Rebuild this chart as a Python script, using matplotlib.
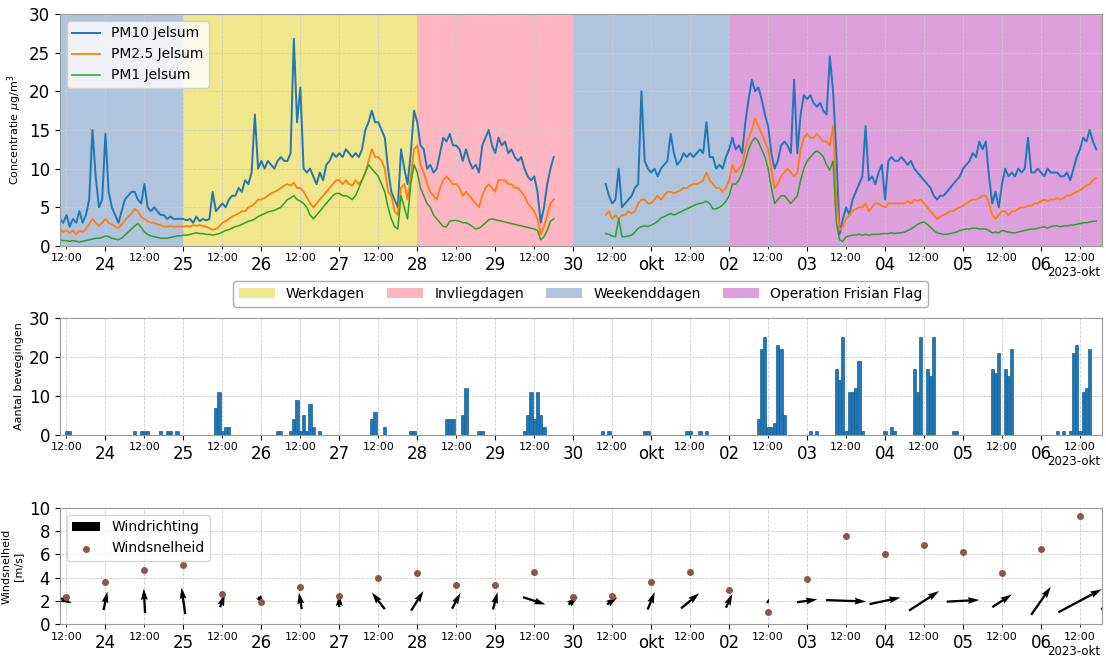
import numpy as np
import pandas as pd
import matplotlib
matplotlib.use("Agg")
import matplotlib.pyplot as plt
import matplotlib.dates as mdates
from matplotlib.patches import Patch
from matplotlib.ticker import FuncFormatter

nan = np.nan

# uurwaarden fijnstof Jelsum, 23 sep 10:00 t/m 6 okt 17:00 (ug/m3)
pm10 = [
    3.5, 3.0, 4.0, 2.5, 3.5, 3.0, 4.5, 3.0, 4.0, 6.0, 15.0, 9.0, 5.0, 6.0,  # 23 sep
    14.5, 7.0, 5.0, 4.0, 3.0, 4.5, 6.0, 6.5, 7.0, 7.0, 6.0, 5.5, 8.0, 5.0, 4.5, 5.0, 4.5, 4.0, 4.0, 3.5, 3.8, 3.5, 3.5, 3.5,
    3.5, 3.3, 3.5, 3.0, 3.8, 3.2, 3.5, 3.3, 3.5, 7.0, 4.5, 5.0, 5.5, 5.0, 6.0, 6.5, 6.5, 7.5, 7.0, 8.5, 8.0, 9.5, 17.0, 10.0,
    11.0, 10.0, 11.0, 10.5, 10.0, 11.0, 11.5, 11.0, 11.0, 12.0, 26.8, 16.0, 20.5, 10.0, 9.5, 10.0, 9.0, 8.0, 9.5, 8.5, 10.5, 11.0, 12.0, 11.5,
    12.0, 11.5, 12.5, 12.0, 11.5, 12.0, 11.5, 12.5, 15.0, 16.0, 17.5, 16.0, 16.0, 15.0, 14.0, 10.0, 7.0, 6.0, 5.0, 12.5, 10.0, 8.0, 12.0, 17.5,
    16.0, 13.0, 12.5, 10.0, 10.5, 9.5, 10.0, 12.0, 14.0, 13.5, 14.5, 13.0, 13.0, 12.5, 11.0, 12.5, 11.0, 10.0, 10.5, 9.5, 13.0, 14.0, 15.0, 13.0,
    12.0, 14.0, 13.0, 13.5, 12.0, 12.5, 11.5, 11.0, 11.5, 10.0, 9.0, 8.5, 9.0, 7.0, 3.0, 5.0, 8.0, 10.0, 11.5, nan, nan, nan, nan, nan,
    nan, nan, nan, nan, nan, nan, nan, nan, nan, nan, 8.0, 6.5, 5.5, 6.0, 10.0, 5.0, 5.5, 6.0, 6.5, 7.5, 8.0, 20.0, 11.0, 10.0,
    9.5, 10.0, 9.0, 10.0, 10.5, 11.0, 14.5, 12.0, 10.5, 11.0, 12.0, 11.5, 12.0, 11.5, 12.0, 12.5, 12.0, 16.0, 11.5, 11.5, 10.0, 10.5, 10.0, 11.5,
    12.5, 14.0, 12.5, 13.0, 12.0, 16.0, 19.0, 21.5, 20.0, 20.5, 19.0, 17.0, 15.5, 12.0, 10.0, 11.0, 13.0, 13.5, 13.0, 12.0, 21.5, 12.0, 17.0, 19.5,
    19.0, 19.5, 18.5, 18.0, 18.5, 17.5, 17.0, 24.5, 20.0, 12.0, 1.5, 3.5, 5.0, 4.0, 6.0, 7.0, 8.0, 9.0, 15.5, 8.5, 9.0, 8.0, 9.5, 10.5,
    6.0, 11.0, 11.5, 11.0, 11.0, 11.5, 11.0, 10.5, 11.0, 10.0, 9.5, 9.0, 8.5, 8.0, 7.5, 6.5, 6.0, 6.5, 6.5, 7.0, 7.5, 8.0, 8.5, 9.0,
    10.0, 10.5, 11.0, 12.0, 11.5, 13.5, 12.5, 13.5, 9.0, 5.5, 7.0, 5.0, 8.0, 10.0, 9.0, 9.5, 9.0, 10.0, 9.5, 10.0, 14.0, 9.5, 9.5, 10.0,
    9.5, 9.0, 10.0, 9.5, 9.5, 9.5, 9.0, 9.0, 9.5, 8.5, 10.0, 11.5, 12.5, 14.0, 13.5, 15.0, 13.5, 12.5,  # 6 okt
]
pm25 = [
    2.2, 1.8, 2.0, 1.7, 2.0, 1.5, 2.0, 1.8, 2.2, 2.8, 3.5, 3.0, 2.6, 3.0,
    3.5, 3.0, 2.8, 2.5, 2.3, 2.8, 3.3, 3.8, 4.2, 4.8, 4.5, 3.8, 3.5, 3.2, 3.0, 3.0, 2.8, 2.7, 2.5, 2.5, 2.6, 2.5, 2.5, 2.5,
    2.5, 2.6, 2.5, 2.7, 2.6, 2.7, 2.6, 2.5, 2.3, 2.1, 2.2, 2.5, 3.0, 3.2, 3.5, 3.8, 4.0, 4.2, 4.5, 4.5, 5.0, 5.2, 5.5, 6.0,
    6.0, 6.2, 6.5, 6.8, 7.0, 7.2, 7.5, 7.8, 8.0, 7.8, 8.2, 7.5, 7.5, 7.0, 6.3, 5.5, 5.0, 5.5, 6.0, 6.5, 7.0, 7.5, 8.0, 8.5,
    8.5, 8.0, 8.5, 8.0, 7.8, 8.5, 8.0, 8.5, 9.5, 11.0, 12.5, 11.5, 11.5, 11.0, 10.0, 7.0, 6.5, 4.5, 4.0, 7.5, 8.0, 6.0, 9.0, 12.5,
    13.0, 10.5, 9.5, 8.0, 7.0, 6.5, 6.0, 7.5, 8.5, 9.0, 8.5, 8.0, 8.0, 7.5, 6.5, 7.0, 6.5, 6.0, 5.5, 5.0, 6.5, 7.5, 8.0, 7.5,
    7.0, 8.5, 8.5, 8.5, 8.0, 8.0, 7.5, 7.5, 7.0, 6.5, 5.5, 5.0, 4.5, 3.5, 1.5, 2.5, 4.0, 5.5, 6.0, nan, nan, nan, nan, nan,
    nan, nan, nan, nan, nan, nan, nan, nan, nan, nan, 4.0, 4.5, 3.5, 4.0, 3.5, 4.0, 4.0, 4.5, 4.2, 4.5, 5.5, 6.0, 6.0, 5.5,
    5.5, 6.0, 6.5, 6.0, 6.5, 7.0, 7.0, 6.8, 7.0, 7.2, 7.5, 7.5, 7.8, 8.0, 8.0, 8.2, 8.5, 9.5, 8.5, 8.0, 7.5, 7.5, 7.0, 7.5,
    8.5, 10.5, 9.5, 10.0, 10.5, 12.5, 14.0, 15.0, 16.5, 15.5, 14.5, 13.5, 12.5, 10.0, 7.5, 8.0, 9.0, 9.5, 10.0, 9.5, 9.0, 9.5, 12.5, 14.0,
    14.5, 14.0, 14.0, 14.5, 14.0, 13.5, 13.5, 13.0, 15.5, 6.0, 2.0, 2.5, 3.5, 4.0, 4.5, 4.8, 5.0, 5.0, 5.5, 4.5, 5.0, 5.5, 5.5, 5.2,
    5.0, 5.5, 5.5, 5.5, 5.5, 5.5, 5.5, 5.8, 5.5, 6.0, 5.8, 6.0, 5.5, 5.0, 4.5, 4.0, 3.5, 3.8, 4.0, 4.2, 4.5, 4.5, 4.8, 5.0,
    5.2, 5.5, 5.8, 6.0, 6.0, 6.2, 6.5, 6.5, 5.5, 4.0, 3.5, 4.0, 4.5, 4.5, 4.0, 4.5, 4.5, 4.8, 5.0, 5.0, 5.2, 5.2, 5.5, 5.5,
    5.8, 6.0, 5.8, 6.0, 6.0, 6.2, 6.0, 6.2, 6.5, 6.5, 6.8, 7.0, 7.2, 7.5, 7.8, 8.0, 8.5, 8.8,
]
pm1 = [
    0.8, 0.7, 0.7, 0.6, 0.7, 0.6, 0.5, 0.6, 0.7, 0.8, 0.9, 1.0, 1.0, 1.1,
    1.3, 1.2, 1.0, 0.9, 0.8, 1.0, 1.4, 1.8, 2.2, 2.6, 2.9, 2.4, 1.8, 1.5, 1.3, 1.2, 1.1, 1.0, 1.0, 1.0, 1.1, 1.2, 1.3, 1.3,
    1.4, 1.4, 1.5, 1.6, 1.7, 1.6, 1.6, 1.5, 1.5, 1.4, 1.5, 1.6, 1.8, 2.0, 2.1, 2.3, 2.5, 2.6, 2.8, 3.0, 3.2, 3.3, 3.5, 3.8,
    4.0, 4.2, 4.4, 4.5, 4.6, 4.8, 5.0, 5.5, 6.0, 6.2, 6.5, 6.0, 5.8, 5.5, 5.0, 4.0, 3.5, 4.0, 4.5, 5.0, 5.5, 6.0, 6.5, 6.8,
    6.8, 6.5, 6.5, 6.3, 6.0, 6.5, 7.5, 8.5, 9.5, 10.5, 10.0, 9.5, 9.0, 8.0, 7.0, 5.0, 3.5, 2.5, 2.2, 6.5, 5.0, 3.5, 8.0, 10.5,
    9.5, 7.5, 6.5, 5.5, 5.0, 4.0, 3.5, 3.0, 2.5, 2.5, 3.2, 3.3, 3.3, 3.2, 3.0, 3.0, 2.8, 2.5, 2.2, 2.3, 2.6, 3.0, 3.4, 3.5,
    3.4, 3.3, 3.2, 3.1, 3.0, 2.9, 2.8, 2.7, 2.6, 2.5, 2.4, 2.3, 2.2, 2.0, 0.8, 1.2, 2.0, 3.2, 3.5, nan, nan, nan, nan, nan,
    nan, nan, nan, nan, nan, nan, nan, nan, nan, nan, 1.6, 1.5, 1.3, 1.2, 3.5, 1.2, 1.2, 1.3, 1.4, 1.8, 2.3, 2.5, 2.6, 2.5,
    2.7, 2.9, 3.2, 3.6, 3.8, 4.0, 4.2, 4.0, 4.2, 4.4, 4.6, 4.8, 5.0, 5.2, 5.4, 5.5, 5.6, 5.8, 5.5, 4.8, 4.8, 5.0, 5.3, 5.8,
    6.5, 8.0, 8.0, 8.5, 9.5, 11.0, 12.5, 13.5, 14.0, 13.5, 12.5, 11.5, 10.0, 7.5, 5.5, 6.0, 6.5, 6.5, 6.0, 5.5, 6.0, 6.5, 8.5, 10.0,
    11.0, 11.5, 12.0, 12.3, 12.0, 11.5, 10.5, 9.8, 11.0, 3.0, 0.8, 0.6, 1.2, 1.3, 1.4, 1.4, 1.5, 1.4, 1.5, 1.4, 1.5, 1.5, 1.5, 1.6,
    1.6, 1.6, 1.7, 1.6, 1.7, 1.7, 1.8, 2.0, 2.2, 2.5, 2.8, 3.0, 3.1, 2.8, 2.4, 2.0, 1.7, 1.6, 1.5, 1.5, 1.6, 1.7, 1.8, 2.0,
    2.1, 2.2, 2.2, 2.3, 2.3, 2.2, 2.2, 2.2, 2.0, 1.7, 1.8, 1.7, 2.0, 1.9, 1.8, 1.7, 1.7, 1.8, 1.9, 2.0, 2.1, 2.2, 2.2, 2.3,
    2.4, 2.5, 2.3, 2.5, 2.6, 2.6, 2.5, 2.6, 2.6, 2.7, 2.7, 2.8, 2.9, 3.0, 3.0, 3.1, 3.2, 3.2,
]
tijd = pd.date_range("2023-09-23 10:00", "2023-10-06 17:00", freq="h")
assert len(pm10) == len(pm25) == len(pm1) == len(tijd)

# vliegbewegingen per uur (alleen uren met bewegingen)
beweging_tijd = [
    "09-23 12", "09-23 13",
    "09-24 09", "09-24 11", "09-24 12", "09-24 13", "09-24 17", "09-24 19", "09-24 20", "09-24 22",
    "09-25 10", "09-25 11", "09-25 12", "09-25 13", "09-25 14",
    "09-26 05", "09-26 06", "09-26 09", "09-26 10", "09-26 11", "09-26 12", "09-26 13", "09-26 14", "09-26 15", "09-26 16", "09-26 18",
    "09-27 10", "09-27 11", "09-27 14", "09-27 22", "09-27 23",
    "09-28 09", "09-28 10", "09-28 11", "09-28 14", "09-28 15", "09-28 19", "09-28 20",
    "09-29 09", "09-29 10", "09-29 11", "09-29 12", "09-29 13", "09-29 14", "09-29 15",
    "09-30 09", "09-30 11", "09-30 22", "09-30 23",
    "10-01 11", "10-01 12", "10-01 15", "10-01 17",
    "10-02 09", "10-02 10", "10-02 11", "10-02 12", "10-02 13", "10-02 14", "10-02 15", "10-02 16", "10-02 17",
    "10-03 01", "10-03 03", "10-03 09", "10-03 10", "10-03 11", "10-03 12", "10-03 13", "10-03 14", "10-03 15", "10-03 16", "10-03 17",
    "10-04 00", "10-04 02", "10-04 03", "10-04 09", "10-04 10", "10-04 11", "10-04 13", "10-04 14", "10-04 15", "10-04 21", "10-04 22",
    "10-05 09", "10-05 10", "10-05 11", "10-05 13", "10-05 14", "10-05 15",
    "10-06 05", "10-06 07", "10-06 09", "10-06 10", "10-06 11", "10-06 12", "10-06 13", "10-06 14", "10-06 15",
]
beweging_aantal = [
    1, 1,
    1, 1, 1, 1, 1, 1, 1, 1,
    7, 11, 1, 2, 2,
    1, 1, 1, 4, 9, 1, 5, 1, 8, 2, 1,
    4, 6, 2, 1, 1,
    4, 4, 4, 5, 12, 1, 1,
    1, 5, 11, 4, 11, 5, 2,
    1, 1, 1, 1,
    1, 1, 1, 1,
    4, 22, 25, 2, 2, 3, 23, 22, 5,
    1, 1, 17, 14, 25, 1, 11, 11, 12, 19, 1,
    1, 2, 1, 17, 11, 25, 17, 15, 25, 1, 1,
    17, 16, 21, 17, 15, 22,
    1, 1, 1, 21, 23, 1, 11, 12, 22,
]

# wind, elke 12 uur vanaf 23 sep 12:00
wind_tijd = pd.date_range("2023-09-23 12:00", "2023-10-07 00:00", freq="12h")
windsnelheid = [2.3, 3.6, 4.65, 5.1, 2.6, 1.9, 3.2, 2.4, 4.0, 4.4, 3.4, 3.4, 4.5, 2.3,
                2.4, 3.6, 4.5, 2.9, 1.0, 3.9, 7.6, 6.0, 6.8, 6.2, 4.4, 6.5, 9.3, 7.5]
windrichting = [295, 192, 177, 172, 200, 325, 170, 180, 142, 212, 208, 195, 288, 230,
                235, 202, 230, 205, 200, 262, 272, 258, 237, 267, 237, 215, 242, 245]

perioden = [
    ("2023-09-23", "2023-09-25", "lightsteelblue"),
    ("2023-09-25", "2023-09-28", "khaki"),
    ("2023-09-28", "2023-09-30", "lightpink"),
    ("2023-09-30", "2023-10-02", "lightsteelblue"),
    ("2023-10-02", "2023-10-08", "plum"),
]
periode_namen = ["Werkdagen", "Invliegdagen", "Weekenddagen", "Operation Frisian Flag"]
periode_kleuren = ["khaki", "lightpink", "lightsteelblue", "plum"]

maanden = ["jan", "feb", "mrt", "apr", "mei", "jun", "jul", "aug", "sep", "okt", "nov", "dec"]
x_start = pd.Timestamp("2023-09-23 10:00")
x_eind = pd.Timestamp("2023-10-06 18:45")


def dag_label(x, pos=None):
    d = mdates.num2date(x)
    if d.day == 1:
        return maanden[d.month - 1]
    return "%02d" % d.day


def tijdas(ax):
    ax.set_xlim(x_start, x_eind)
    ax.xaxis.set_major_locator(mdates.DayLocator())
    ax.xaxis.set_major_formatter(FuncFormatter(dag_label))
    ax.xaxis.set_minor_locator(mdates.HourLocator(byhour=[12]))
    ax.xaxis.set_minor_formatter(mdates.DateFormatter("%H:%M"))
    ax.tick_params(axis="x", which="major", labelsize=12)
    ax.tick_params(axis="x", which="minor", labelsize=8)
    ax.tick_params(axis="y", labelsize=12)
    ax.grid(True, which="both", axis="x", ls="--", lw=0.6, color="0.8")
    ax.grid(True, which="major", axis="y", ls="--", lw=0.6, color="0.8")
    for s in ax.spines.values():
        s.set_color("0.6")
    ax.annotate("2023-okt", xy=(1, 0), xycoords="axes fraction", xytext=(-2, -27),
                textcoords="offset pixels", ha="right", va="center", fontsize=8.5)


fig = plt.figure(figsize=(11.06, 6.57), dpi=100)
ax1 = fig.add_axes([0.0542, 0.6256, 0.9421, 0.3531])
ax2 = fig.add_axes([0.0542, 0.3379, 0.9421, 0.1781])
ax3 = fig.add_axes([0.0542, 0.0502, 0.9421, 0.1766])

# fijnstof met achtergrond per periode
for begin, eind, kleur in perioden:
    ax1.axvspan(pd.Timestamp(begin), pd.Timestamp(eind), color=kleur, lw=0, zorder=0)
ax1.plot(tijd, pm10, color="tab:blue", lw=1.4, label="PM10 Jelsum")
ax1.plot(tijd, pm25, color="tab:orange", lw=1.3, label="PM2.5 Jelsum")
ax1.plot(tijd, pm1, color="tab:green", lw=1.1, label="PM1 Jelsum")
ax1.set_ylim(0, 30)
ax1.set_yticks(range(0, 31, 5))
ax1.set_ylabel(r"Concentratie $\mu$g/m$^3$", fontsize=8)
ax1.legend(loc="upper left", fontsize=10)
tijdas(ax1)

handles = [Patch(facecolor=k, label=n) for n, k in zip(periode_namen, periode_kleuren)]
fig.legend(handles=handles, loc="center", bbox_to_anchor=(0.525, 0.5525), ncol=4,
           fontsize=10, handlelength=2.6, columnspacing=1.6, edgecolor="0.6")

# vliegbewegingen
bt = pd.to_datetime(["2023-" + t + ":00" for t in beweging_tijd])
ax2.bar(bt, beweging_aantal, width=1 / 24, color="tab:blue", edgecolor="#1a5f94", lw=0.5, zorder=2)
ax2.set_ylim(0, 30)
ax2.set_yticks([0, 10, 20, 30])
ax2.set_ylabel("Aantal bewegingen", fontsize=8)
tijdas(ax2)

# windrichting en windsnelheid
r = np.deg2rad(windrichting)
u = -np.array(windsnelheid) * np.sin(r)
v = -np.array(windsnelheid) * np.cos(r)
xw = mdates.date2num(wind_tijd)
ax3.quiver(xw, np.full(len(xw), 2.0), u, v, pivot="middle", angles="uv",
           scale_units="inches", scale=19, width=0.0022, color="black",
           label="Windrichting", zorder=3)
ax3.scatter(wind_tijd, windsnelheid, s=16, color="#8c564b", label="Windsnelheid", zorder=3)
ax3.set_ylim(0, 10)
ax3.set_yticks(range(0, 11, 2))
ax3.set_ylabel("Windsnelheid\n[m/s]", fontsize=8)
ax3.legend(loc="upper left", fontsize=10)
tijdas(ax3)

fig.savefig("out.png", dpi=100)
